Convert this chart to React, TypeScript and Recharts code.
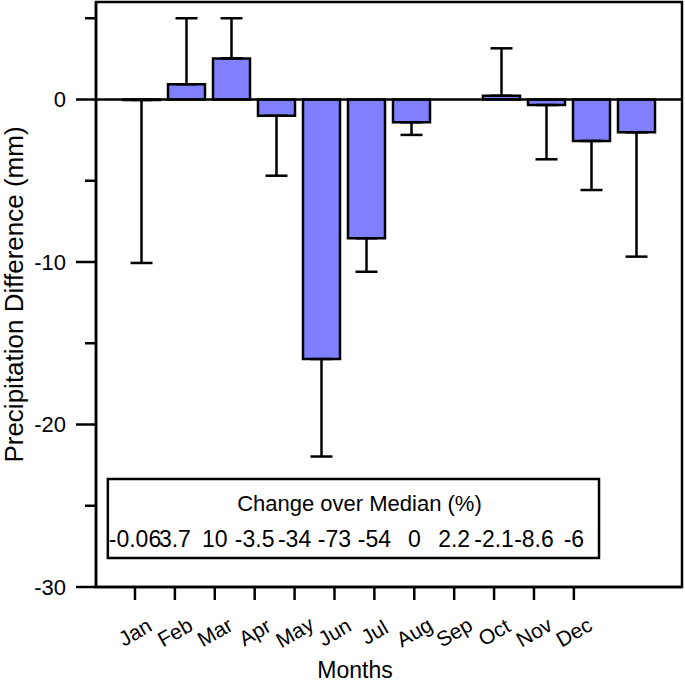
import React from 'react';
import {
  ComposedChart,
  Bar,
  XAxis,
  YAxis,
  ErrorBar,
  ReferenceLine,
  ReferenceArea,
  ReferenceDot,
} from 'recharts';

// ---- data ----
const months = ['Jan', 'Feb', 'Mar', 'Apr', 'May', 'Jun', 'Jul', 'Aug', 'Sep', 'Oct', 'Nov', 'Dec'];
const precipDiff = [-0.03, 0.94, 2.53, -1.0, -15.97, -8.54, -1.4, 0, 0.23, -0.34, -2.55, -2.02];
const errorSize = [10.03, 4.06, 2.47, 3.69, 6.0, 2.06, 0.78, 0, 2.92, 3.34, 3.02, 7.65];
const changeOverMedian = ['-0.06', '3.7', '10', '-3.5', '-34', '-73', '-54', '0', '2.2', '-2.1', '-8.6', '-6'];
const yTicks = [-30, -25, -20, -15, -10, -5, 0, 5];
const monthIndex = [1, 2, 3, 4, 5, 6, 7, 8, 9, 10, 11, 12];

// axis domains
const Y_MIN = -30;
const Y_MAX = 6;
const X_MIN = 0.023;
const X_MAX = 14.71;
const ROW_Y = -27.05;

const chartData = months.map((m, i) => ({
  month: m,
  pos: monthIndex[i],
  value: precipDiff[i],
  err: precipDiff[i] >= 0 ? [0, errorSize[i]] : [errorSize[i], 0],
}));

const FONT = '"Liberation Sans", Arial, sans-serif';

const YTick = (props: any) => {
  const { x, y, payload } = props;
  const major = payload.value % 10 === 0;
  return (
    <g>
      <line x1={x - (major ? 20 : 11)} x2={x} y1={y} y2={y} stroke="#000" strokeWidth={2.5} />
      {major && (
        <text x={x - 30} y={y} dy="0.36em" textAnchor="end" fontSize={22} fill="#000" fontFamily={FONT}>
          {payload.value}
        </text>
      )}
    </g>
  );
};

const XTick = (props: any) => {
  const { x, y, payload } = props;
  const label = months[payload.value - 1];
  const cy = y + 45;
  return (
    <g>
      <line x1={x} x2={x} y1={y} y2={y + 13} stroke="#000" strokeWidth={2.5} />
      <text
        x={x}
        y={cy}
        textAnchor="middle"
        dominantBaseline="central"
        transform={`rotate(-30 ${x} ${cy})`}
        fontSize={21}
        fill="#000"
        fontFamily={FONT}
      >
        {label}
      </text>
    </g>
  );
};

export default function App() {
  return (
    <div style={{ position: 'absolute', left: 0, top: 0, background: '#fff' }}>
      <ComposedChart
        width={685}
        height={682}
        data={chartData}
        margin={{ top: 2, right: 3, bottom: 0, left: 0 }}
        style={{ fontFamily: FONT }}
      >
        <XAxis
          xAxisId="bars"
          dataKey="month"
          type="category"
          hide
          height={0}
          padding={{ left: 23, right: 23 }}
        />
        <XAxis
          xAxisId="num"
          dataKey="pos"
          type="number"
          domain={[X_MIN, X_MAX]}
          allowDataOverflow
          ticks={monthIndex}
          interval={0}
          height={95}
          tickSize={0}
          tickMargin={0}
          tickLine={false}
          tick={<XTick />}
          axisLine={{ stroke: '#000', strokeWidth: 2.5 }}
          label={{
            content: () => (
              <text x={355} y={678} textAnchor="middle" fontSize={23} fill="#000" fontFamily={FONT}>
                Months
              </text>
            ),
          }}
        />
        <YAxis
          type="number"
          domain={[Y_MIN, Y_MAX]}
          allowDataOverflow
          ticks={yTicks}
          interval={0}
          width={96}
          tickSize={0}
          tickMargin={0}
          tickLine={false}
          tick={<YTick />}
          axisLine={{ stroke: '#000', strokeWidth: 2.5 }}
          label={{
            content: () => (
              <text
                x={23}
                y={294.5}
                transform="rotate(-90 23 294.5)"
                textAnchor="middle"
                fontSize={26}
                fill="#000"
                fontFamily={FONT}
              >
                Precipitation Difference (mm)
              </text>
            ),
          }}
        />
        <ReferenceArea
          xAxisId="num"
          x1={X_MIN}
          x2={X_MAX}
          y1={Y_MIN}
          y2={Y_MAX}
          fill="none"
          stroke="#000"
          strokeWidth={2.5}
          ifOverflow="visible"
        />
        <Bar
          xAxisId="bars"
          dataKey="value"
          fill="#8080ff"
          stroke="#000"
          strokeWidth={2.5}
          barSize={37}
          isAnimationActive={false}
        >
          <ErrorBar dataKey="err" width={11} stroke="#000" strokeWidth={2.5} direction="y" />
        </Bar>
        <ReferenceLine xAxisId="num" y={0} stroke="#000" strokeWidth={2.5} />
        <ReferenceArea
          xAxisId="num"
          x1={0.32}
          x2={12.63}
          y1={-23.35}
          y2={-28.22}
          fill="#fff"
          fillOpacity={1}
          stroke="#000"
          strokeWidth={2.5}
          label={{
            value: 'Change over Median (%)',
            position: 'insideTop',
            offset: 16,
            fontSize: 22,
            fill: '#000',
            dx: 6,
          }}
        />
        {changeOverMedian.map((t, i) => (
          <ReferenceDot
            key={months[i]}
            xAxisId="num"
            x={monthIndex[i]}
            y={ROW_Y}
            r={0.01}
            fill="none"
            stroke="none"
            label={{ value: t, position: 'center', fontSize: 23, fill: '#000' }}
          />
        ))}
      </ComposedChart>
    </div>
  );
}
